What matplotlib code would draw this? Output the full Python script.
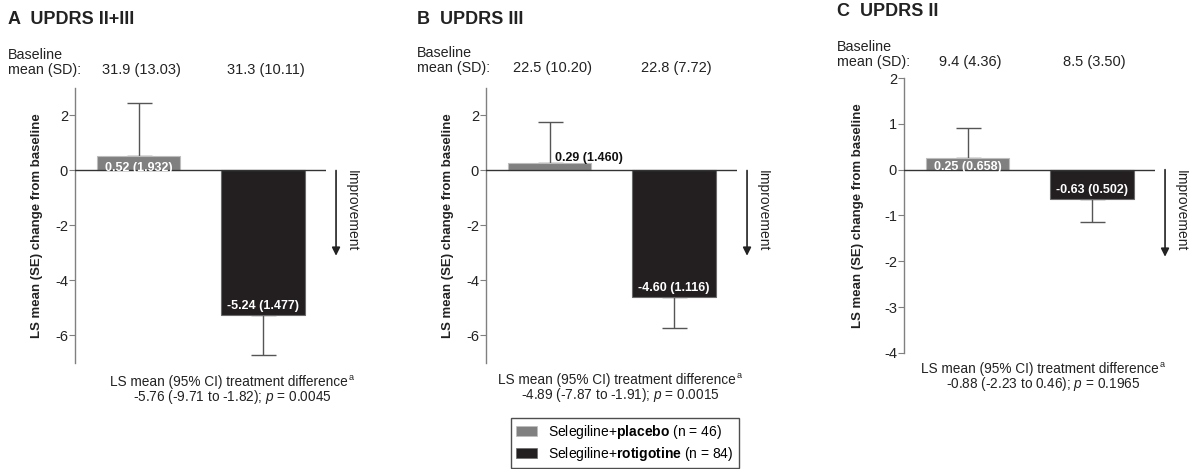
import matplotlib.pyplot as plt
from matplotlib.patches import Patch
from matplotlib.transforms import blended_transform_factory

plt.rcParams['font.family'] = ['Liberation Sans', 'DejaVu Sans']
plt.rcParams['axes.unicode_minus'] = False
plt.rcParams['mathtext.fontset'] = 'custom'
plt.rcParams['mathtext.rm'] = 'Liberation Sans'
plt.rcParams['mathtext.it'] = 'Liberation Sans:italic'
plt.rcParams['mathtext.bf'] = 'Liberation Sans:bold'


# --------------------------------------------------
# DATA
# --------------------------------------------------

group_names = ["placebo", "rotigotine"]
group_n = [46, 84]

panel_titles = ["A  UPDRS II+III", "B  UPDRS III", "C  UPDRS II"]

baseline_mean = [[31.9, 31.3], [22.5, 22.8], [9.4, 8.5]]
baseline_sd = [[13.03, 10.11], [10.20, 7.72], [4.36, 3.50]]

ls_mean = [[0.52, -5.24], [0.29, -4.60], [0.25, -0.63]]
ls_se = [[1.932, 1.477], [1.460, 1.116], [0.658, 0.502]]

diff_mean = [-5.76, -4.89, -0.88]
diff_low = [-9.71, -7.87, -2.23]
diff_high = [-1.82, -1.91, 0.46]
p_values = ["0.0045", "0.0015", "0.1965"]

y_limits = [(-7, 3), (-7, 3), (-4, 2)]
y_ticks = [[-6, -4, -2, 0, 2], [-6, -4, -2, 0, 2], [-4, -3, -2, -1, 0, 1, 2]]

colors = ["#808080", "#231f20"]
edge_colors = ["#bdbdbd", "#6a6a6a"]


# --------------------------------------------------
# LAYOUT (pixels on a 1194 x 469 canvas)
# --------------------------------------------------

W = 1194.0
H = 469.0

def fx(px):
    return px / W

def fy(py):
    return 1 - py / H

# left, top of axes, title x, title y, baseline y, footnote x, footnote y
layout = [
    (75, 88, 8, 19, 74, 232, 386),
    (486, 88, 417, 19, 72, 620, 384),
    (904, 78, 837, 12, 66, 1043, 373),
]
ax_w = 251
ax_h = 275
ylabel_x = [-0.127, -0.127, -0.160]
arrow_end = [-3.1, -3.1, -1.9]


# --------------------------------------------------
# PLOT
# --------------------------------------------------

fig = plt.figure(figsize=(11.94, 4.69), dpi=100)
renderer = fig.canvas.get_renderer()

x_pos = [0.76, 2.25]

for k in range(3):

    left, top, tx, ty, by, nx, ny = layout[k]

    ax = fig.add_axes([fx(left), fy(top + ax_h), ax_w / W, ax_h / H])

    # bars
    i = 0
    while i < 2:
        ax.bar(x_pos[i], ls_mean[k][i], width=1.0, color=colors[i],
               edgecolor=edge_colors[i], linewidth=0.8, zorder=3)
        if ls_mean[k][i] >= 0:
            err = [[0], [ls_se[k][i]]]
        else:
            err = [[ls_se[k][i]], [0]]
        ax.errorbar(x_pos[i], ls_mean[k][i], yerr=err, fmt="none",
                    ecolor="#555555", elinewidth=1, capsize=9, capthick=1,
                    zorder=2)
        i += 1

    ax.axhline(0, color="#333333", linewidth=1, zorder=4)

    ax.set_xlim(0, 3)
    ax.set_ylim(y_limits[k])
    ax.set_yticks(y_ticks[k])
    ax.set_xticks([])

    for side in ["top", "right", "bottom"]:
        ax.spines[side].set_visible(False)
    ax.spines["left"].set_color("#808080")
    ax.spines["left"].set_linewidth(1)
    ax.tick_params(axis="y", length=4, width=0.8, color="#808080",
                   labelsize=10.5, labelcolor="#222222", pad=1)

    ax.set_ylabel("LS mean (SE) change from baseline", fontsize=9.5,
                  fontweight="bold", color="#222222")
    ax.yaxis.set_label_coords(ylabel_x[k], 0.5)

    # bar labels
    plac = ls_mean[k][0]
    rot = ls_mean[k][1]
    plac_txt = "%.2f (%.3f)" % (plac, ls_se[k][0])
    rot_txt = "%.2f (%.3f)" % (rot, ls_se[k][1])

    if k == 1:
        ax.annotate(plac_txt, (x_pos[0], plac), xytext=(4, 1),
                    textcoords="offset points", ha="left", va="baseline",
                    fontsize=9, fontweight="bold", color="#111111", zorder=5)
    else:
        ax.annotate(plac_txt, (x_pos[0], 0), xytext=(0, 0),
                    textcoords="offset points", ha="center", va="baseline",
                    fontsize=9, fontweight="bold", color="white", zorder=5)

    ax.annotate(rot_txt, (x_pos[1], rot), xytext=(0, 2),
                textcoords="offset points", ha="center", va="bottom",
                fontsize=9, fontweight="bold", color="white", zorder=5)

    # improvement arrow
    ax.annotate("", xy=(3.12, arrow_end[k]), xytext=(3.12, 0),
                arrowprops=dict(arrowstyle="-|>", color="#222222", lw=1.2,
                                mutation_scale=12, shrinkA=0, shrinkB=0),
                annotation_clip=False)
    ax.text(3.31, 0, "Improvement", rotation=-90, ha="center", va="top",
            fontsize=10, color="#222222", clip_on=False)

    # title and baseline row
    fig.text(fx(tx), fy(ty), panel_titles[k], fontsize=13,
             fontweight="bold", va="center", ha="left", color="#222222")
    fig.text(fx(tx), fy(by), "Baseline\nmean (SD):", fontsize=10.3,
             va="baseline", ha="left", linespacing=1.1, color="#222222")

    trans = blended_transform_factory(ax.transData, fig.transFigure)
    i = 0
    while i < 2:
        ax.text(x_pos[i] + 0.03, fy(by), "%.1f (%.2f)" % (baseline_mean[k][i], baseline_sd[k][i]),
                transform=trans, fontsize=10.5, ha="center", va="baseline",
                color="#222222")
        i += 1

    # treatment difference footnote, with a small raised "a"
    line1 = fig.text(fx(nx - 3), fy(ny), "LS mean (95% CI) treatment difference",
                     fontsize=9.8, ha="center", va="baseline", color="#222222")
    box = line1.get_window_extent(renderer)
    fig.text(box.x1 / W + 0.0008, fy(ny - 6), "a", fontsize=6.5,
             ha="left", va="baseline", color="#222222")
    fig.text(fx(nx), fy(ny + 15),
             "%.2f (%.2f to %.2f); $p$ = %s" % (diff_mean[k], diff_low[k], diff_high[k], p_values[k]),
             fontsize=9.8, ha="center", va="baseline", color="#222222")


# --------------------------------------------------
# LEGEND
# --------------------------------------------------

handles = []
labels = []
i = 0
while i < 2:
    handles.append(Patch(facecolor=colors[i], edgecolor=edge_colors[i], linewidth=0.5))
    labels.append("Selegiline+$\\mathbf{%s}$ (n = %d)" % (group_names[i], group_n[i]))
    i += 1

leg = fig.legend(handles, labels, loc="lower center", bbox_to_anchor=(fx(625), fy(468)),
                 fontsize=10, frameon=True, fancybox=False, edgecolor="#222222",
                 handlelength=1.5, handleheight=0.7, handletextpad=0.8,
                 borderpad=0.35, labelspacing=0.3, borderaxespad=0)
leg.get_frame().set_linewidth(1)

fig.savefig("out.png", dpi=100)
